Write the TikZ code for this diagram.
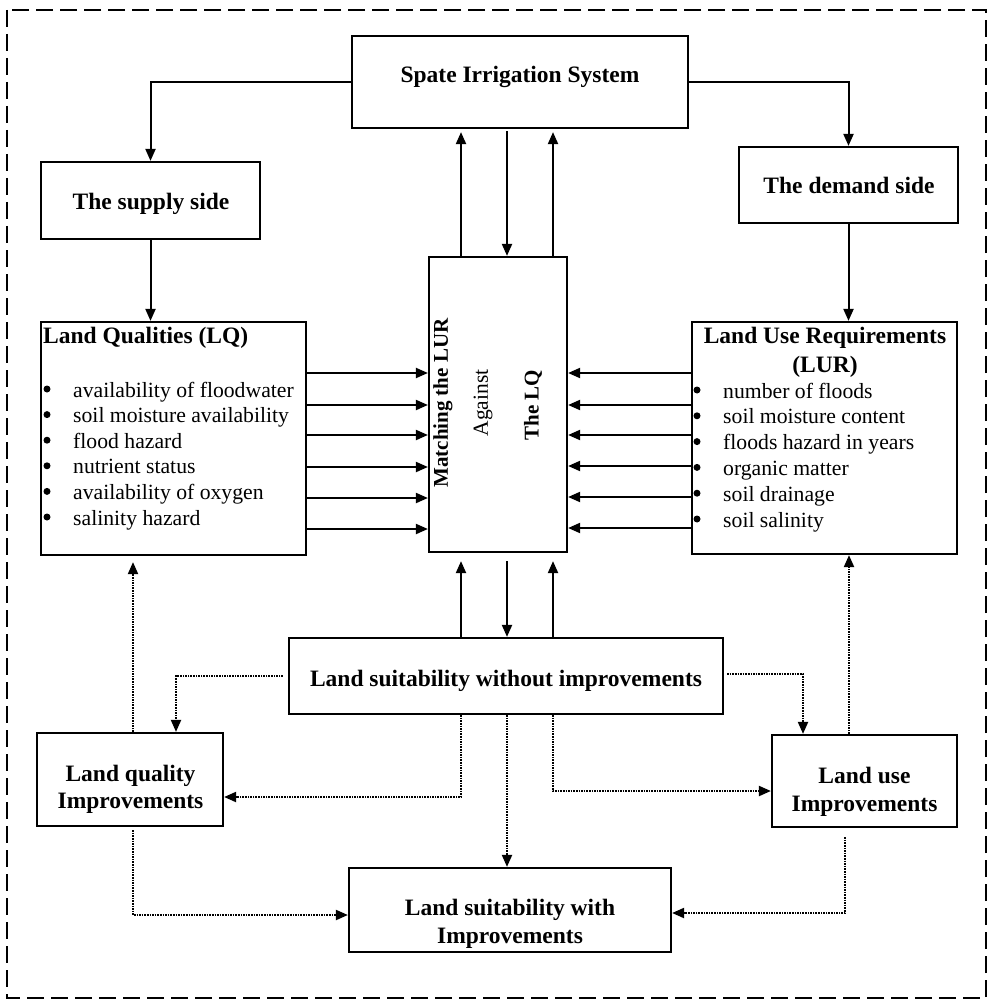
\documentclass[tikz,border=0pt]{standalone}
\usepackage{fontspec}
\setmainfont{Liberation Serif}
\usetikzlibrary{arrows.meta}

\begin{document}
\begin{tikzpicture}[x=1pt,y=-1pt,
  box/.style={draw, line width=2.2pt, inner sep=0pt},
  arr/.style={line width=2pt, -{Triangle[length=12pt,width=10pt]}},
  darr/.style={line width=2pt, dash pattern=on 1.6pt off 1pt, -{Triangle[length=12pt,width=10pt]}},
  bt/.style={font=\fontsize{23.5}{28}\selectfont\bfseries, inner sep=0pt, anchor=base},
  rt/.style={font=\fontsize{21.7}{26}\selectfont, inner sep=0pt, anchor=base west},
  vbt/.style={font=\fontsize{21}{25}\selectfont\bfseries, inner sep=0pt, rotate=90},
  vrt/.style={font=\fontsize{21.5}{25}\selectfont, inner sep=0pt, rotate=90},
  bullet/.style={circle, fill, inner sep=0pt, minimum size=7pt},
]
\useasboundingbox (0,0) rectangle (988,1000);

% outer dashed frame
\draw[line width=2.4pt, dash pattern=on 17pt off 7pt] (7,10) rectangle (986,998);

% boxes
\node[box, minimum width=336pt, minimum height=92pt]  (spate)   at (520,82)    {};
\node[box, minimum width=219pt, minimum height=77pt]  (supply)  at (150.5,200.5) {};
\node[box, minimum width=219pt, minimum height=76pt]  (demand)  at (848.5,185)  {};
\node[box, minimum width=265pt, minimum height=233pt] (lq)      at (173.5,438.5) {};
\node[box, minimum width=265pt, minimum height=232pt] (lur)     at (824.5,438)  {};
\node[box, minimum width=138pt, minimum height=295pt] (mid)     at (498,404.5)  {};
\node[box, minimum width=434pt, minimum height=76pt]  (without) at (506,676)    {};
\node[box, minimum width=186pt, minimum height=93pt]  (lqi)     at (130,779.5)  {};
\node[box, minimum width=185pt, minimum height=92pt]  (lui)     at (864.5,781)  {};
\node[box, minimum width=322pt, minimum height=84pt]  (with)    at (510,910)    {};

% texts
\node[bt] (t-spate)  at (520,83)  {Spate Irrigation System};
\node[bt] (t-supply) at (151,210) {The supply side};
\node[bt] (t-demand) at (849,194) {The demand side};
\node[bt, anchor=base west] (t-lq) at (43,343) {Land Qualities (LQ)};
\node[bt] (t-lur1) at (825,343) {Land Use Requirements};
\node[bt] (t-lur2) at (825,372) {(LUR)};
\node[bt] (t-without) at (506,686) {Land suitability without improvements};
\node[bt] (t-lqi1) at (130.5,781) {Land quality};
\node[bt] (t-lqi2) at (130.5,808) {Improvements};
\node[bt] (t-lui1) at (864.5,783) {Land use};
\node[bt] (t-lui2) at (864.5,811) {Improvements};
\node[bt] (t-with1) at (510,915) {Land suitability with};
\node[bt] (t-with2) at (510,943) {Improvements};

\node[vbt] (t-mid1) at (443,403) {Matching the LUR};
\node[vrt] (t-mid2) at (483,403) {Against};
\node[vbt] (t-mid3) at (533,405) {The LQ};

% land qualities list
\foreach \t [count=\i] in {availability of floodwater, soil moisture availability,
    flood hazard, nutrient status, availability of oxygen, salinity hazard} {
  \node[bullet] (lqdot\i) at (47,{389+25.6*(\i-1)}) {};
  \node[rt] (lqitem\i) at (73,{397+25.6*(\i-1)}) {\t};
}
% land use requirements list
\foreach \t [count=\i] in {number of floods, soil moisture content,
    floods hazard in years, organic matter, soil drainage, soil salinity} {
  \node[bullet] (lurdot\i) at (697,{390+25.8*(\i-1)}) {};
  \node[rt] (luritem\i) at (723,{398+25.8*(\i-1)}) {\t};
}

% column positions for the vertical links of the matching box
\coordinate (c1) at (461,0);
\coordinate (c2) at (507,0);
\coordinate (c3) at (553,0);

% solid connectors
\draw[arr] (spate.west) -| (supply.north);
\draw[arr] (spate.east) -| (demand.north);
\draw[arr] (supply.south) -- (supply.south |- lq.north);
\draw[arr] (demand.south) -- (demand.south |- lur.north);

\draw[arr, shorten >=3pt] (mid.north -| c1) -- (spate.south -| c1);
\draw[arr, shorten <=2pt] (spate.south -| c2) -- (mid.north -| c2);
\draw[arr, shorten >=3pt] (mid.north -| c3) -- (spate.south -| c3);

\draw[arr, shorten >=8pt] (without.north -| c1) -- (mid.south -| c1);
\draw[arr, shorten <=8pt] (mid.south -| c2) -- (without.north -| c2);
\draw[arr, shorten >=8pt] (without.north -| c3) -- (mid.south -| c3);

\foreach \y in {373,405,435,467,498,529}
  \draw[arr] (lq.east |- 0,\y) -- (mid.west |- 0,\y);
\foreach \y in {373,405,435,466,497,528}
  \draw[arr] (lur.west |- 0,\y) -- (mid.east |- 0,\y);

% dotted connectors
\draw[darr, shorten >=6pt] (lqi.north -| 133,0) -- (lq.south -| 133,0);
\draw[darr] (lui.north -| 849,0) -- (lur.south -| 849,0);
\draw[darr, shorten <=5pt] (without.west |- 0,676) -| (lqi.north -| 176,0);
\draw[darr] (without.south -| c1) |- (lqi.east |- 0,797);
\draw[darr] (without.south -| c2) -- (with.north -| c2);
\draw[darr] (without.south -| c3) |- (lui.west |- 0,791);
\draw[darr, shorten <=3pt] (without.east |- 0,674) -| (lui.north -| 803,0);
\draw[darr, shorten <=3pt] (lqi.south -| 133,0) |- (with.west |- 0,915);
\draw[darr, shorten <=9pt] (lui.south -| 845,0) |- (with.east |- 0,913);
\end{tikzpicture}
\end{document}
